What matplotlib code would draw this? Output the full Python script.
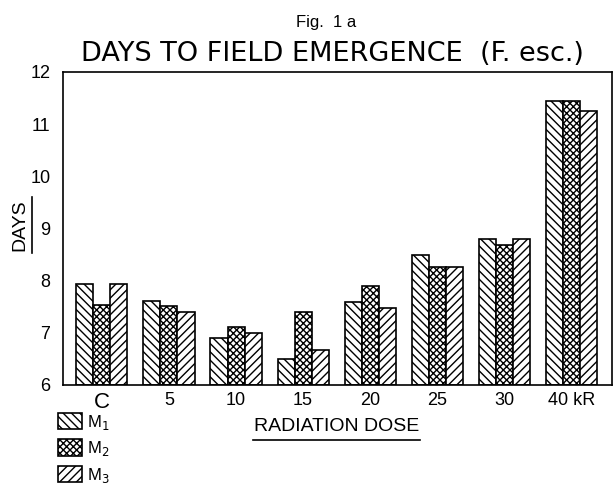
import matplotlib
matplotlib.use("Agg")
import matplotlib.pyplot as plt
import numpy as np
from matplotlib.lines import Line2D

plt.rcParams["font.family"] = ["Liberation Sans", "DejaVu Sans"]
plt.rcParams["hatch.linewidth"] = 1.0

DOSES = ["C", "5", "10", "15", "20", "25", "30", "40 kR"]
M1 = [7.93, 7.61, 6.90, 6.50, 7.59, 8.50, 8.79, 11.45]
M2 = [7.53, 7.52, 7.11, 7.39, 7.90, 8.27, 8.68, 11.45]
M3 = [7.93, 7.40, 7.00, 6.68, 7.48, 8.27, 8.79, 11.26]
SERIES = [("M$_1$", M1, "\\\\\\\\"), ("M$_2$", M2, "xxxxx"), ("M$_3$", M3, "////")]
Y_TICKS = [6, 7, 8, 9, 10, 11, 12]

fig = plt.figure(figsize=(6.14, 4.9), dpi=100)
ax = fig.add_axes([0.1026, 0.2143, 0.8935, 0.6388])

x = np.arange(len(DOSES))
w = 0.254
handles = []
for k, (name, vals, hatch) in enumerate(SERIES):
    b = ax.bar(x + (k - 1) * w, np.array(vals) - 6, width=w, bottom=6,
               color="white", edgecolor="black", linewidth=1.2, hatch=hatch,
               label=name)
    handles.append(b)

ax.set_xlim(-0.58, 7.6)
ax.set_ylim(6, 12)
ax.set_yticks(Y_TICKS)
ax.set_yticklabels([str(t) for t in Y_TICKS], fontsize=13)
ax.set_xticks(x)
ax.set_xticklabels(DOSES, fontsize=13)
ax.tick_params(axis="x", length=0, pad=5)
ax.tick_params(axis="y", length=0, pad=9)
ax.get_xticklabels()[0].set_fontsize(16)
for s in ax.spines.values():
    s.set_linewidth(1.2)

fig.text(0.531, 0.955, "Fig.  1 a", ha="center", va="center", fontsize=12)
fig.text(0.541, 0.889, "DAYS TO FIELD EMERGENCE  (F. esc.)", ha="center",
         va="center", fontsize=19.5, family="DejaVu Sans")

# axis titles, underlined as in the original
fig.text(0.033, 0.541, "DAYS", rotation=90, ha="center", va="center", fontsize=14)
fig.add_artist(Line2D([0.052, 0.052], [0.484, 0.598], color="black", lw=1.2))
fig.text(0.548, 0.129, "RADIATION DOSE", ha="center", va="center", fontsize=14)
fig.add_artist(Line2D([0.412, 0.684], [0.102, 0.102], color="black", lw=1.2))

fig.legend(handles=handles, loc="upper left", bbox_to_anchor=(0.0945, 0.158),
           frameon=False, fontsize=12, handlelength=1.45, handleheight=1.15,
           labelspacing=0.45, handletextpad=0.3, borderpad=0, borderaxespad=0)

fig.savefig("out.png", dpi=100)
